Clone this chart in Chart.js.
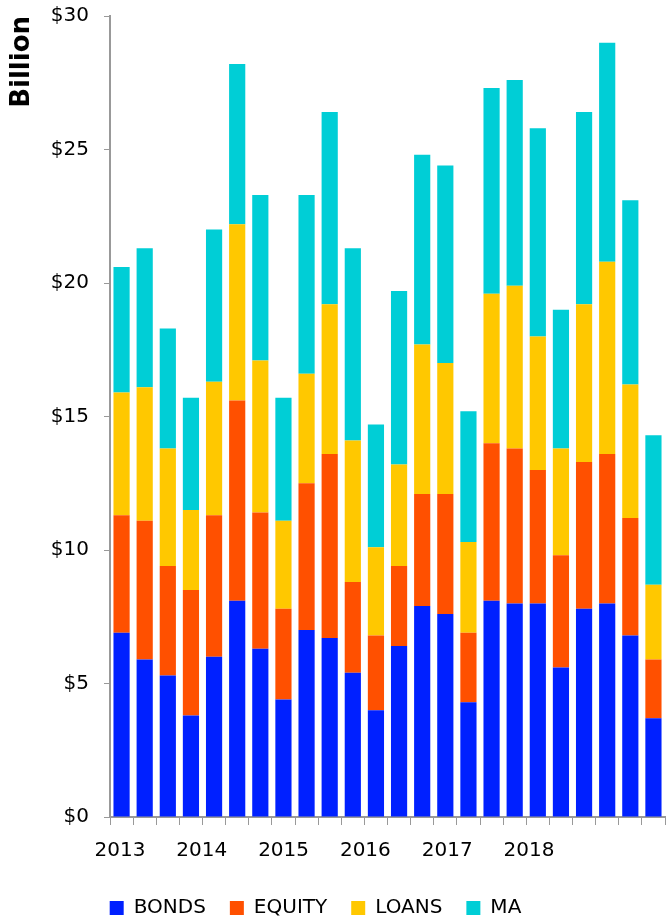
<!DOCTYPE html>
<html>
<head>
<meta charset="utf-8">
<script src="https://cdn.jsdelivr.net/npm/chart.js@4"></script>
<style>
  html, body { margin: 0; padding: 0; background: #fff; }
  #wrap { width: 667px; height: 923px; position: relative; }
</style>
</head>
<body>
<div id="wrap"><canvas id="myChart"></canvas></div>
<script>
// quarters 2013 Q1 - 2018 Q4
const quarters = ['2013 Q1', '2013 Q2', '2013 Q3', '2013 Q4', '2014 Q1', '2014 Q2', '2014 Q3', '2014 Q4',
    '2015 Q1', '2015 Q2', '2015 Q3', '2015 Q4', '2016 Q1', '2016 Q2', '2016 Q3', '2016 Q4',
    '2017 Q1', '2017 Q2', '2017 Q3', '2017 Q4', '2018 Q1', '2018 Q2', '2018 Q3', '2018 Q4'];
const years = [2013, 2014, 2015, 2016, 2017, 2018];

// $ billion
const bonds = [6.9, 5.9, 5.3, 3.8, 6.0, 8.1, 6.3, 4.4, 7.0, 6.7, 5.4, 4.0,
    6.4, 7.9, 7.6, 4.3, 8.1, 8.0, 8.0, 5.6, 7.8, 8.0, 6.8, 3.7];
const equity = [4.4, 5.2, 4.1, 4.7, 5.3, 7.5, 5.1, 3.4, 5.5, 6.9, 3.4, 2.8,
    3.0, 4.2, 4.5, 2.6, 5.9, 5.8, 5.0, 4.2, 5.5, 5.6, 4.4, 2.2];
const loans = [4.6, 5.0, 4.4, 3.0, 5.0, 6.6, 5.7, 3.3, 4.1, 5.6, 5.3, 3.3,
    3.8, 5.6, 4.9, 3.4, 5.6, 6.1, 5.0, 4.0, 5.9, 7.2, 5.0, 2.8];
const ma = [4.7, 5.2, 4.5, 4.2, 5.7, 6.0, 6.2, 4.6, 6.7, 7.2, 7.2, 4.6,
    6.5, 7.1, 7.4, 4.9, 7.7, 7.7, 7.8, 5.2, 7.2, 8.2, 6.9, 5.6];
const yTicks = [0, 5, 10, 15, 20, 25, 30];

Chart.defaults.font.family = '"DejaVu Sans", Verdana, sans-serif';
Chart.defaults.font.size = 20;
Chart.defaults.color = '#000';

// nudge the legend a bit to the left, like the original
const legendShift = {
    id: 'legendShift',
    afterLayout: function (chart) {
        chart.legend.left -= 17;
        chart.legend.right -= 17;
    }
};

var ctx = document.getElementById('myChart');
var myChart = new Chart(ctx, {
    type: 'bar',
    data: {
        labels: quarters,
        datasets: [
            { label: 'BONDS', data: bonds, backgroundColor: '#0020ff' },
            { label: 'EQUITY', data: equity, backgroundColor: '#ff5000' },
            { label: 'LOANS', data: loans, backgroundColor: '#ffc800' },
            { label: 'MA', data: ma, backgroundColor: '#00ced6' }
        ]
    },
    plugins: [legendShift],
    options: {
        responsive: true,
        maintainAspectRatio: false,
        animation: false,
        layout: { padding: { top: 16, right: 2, left: 0, bottom: -5 } },
        datasets: {
            bar: { categoryPercentage: 1, barPercentage: 0.7, borderWidth: 0 }
        },
        plugins: {
            tooltip: { enabled: false },
            legend: {
                position: 'bottom',
                labels: {
                    boxWidth: 14,
                    boxHeight: 14,
                    padding: 24,
                    font: { size: 20 }
                }
            }
        },
        scales: {
            x: {
                stacked: true,
                weight: 0,
                ticks: { display: false },
                grid: { drawOnChartArea: false, tickLength: 8, color: '#999' },
                border: { color: '#999', width: 2 },
                afterFit: function (scale) { scale.height = 8; }
            },
            years: {
                type: 'linear',
                position: 'bottom',
                weight: 1,
                offset: false,
                min: 2012.878,
                max: 2019.663,
                grid: { display: false, offset: false },
                border: { display: false },
                ticks: {
                    stepSize: 1,
                    includeBounds: false,
                    autoSkip: false,
                    maxRotation: 0,
                    padding: 6,
                    callback: function (v) { return years.includes(v) ? String(v) : ''; }
                },
                afterFit: function (scale) {
                    scale.height = 49;
                    scale.paddingLeft = 0;
                    scale.paddingRight = 0;
                }
            },
            y: {
                stacked: true,
                min: 0,
                max: 30,
                afterBuildTicks: function (scale) {
                    scale.ticks = yTicks.map(v => ({ value: v }));
                },
                ticks: {
                    padding: 15,
                    callback: function (v) { return '$' + v; }
                },
                grid: { drawOnChartArea: false, tickLength: 6, color: '#999' },
                border: { color: '#999', width: 2 },
                title: {
                    display: true,
                    text: 'Billion',
                    align: 'end',
                    padding: { top: 7, bottom: 0 },
                    font: { size: 26, weight: 'bold' }
                },
                afterFit: function (scale) {
                    scale.width = 110;
                    scale.paddingTop = 0;
                    scale.paddingBottom = 0;
                }
            }
        }
    }
});
</script>
</body>
</html>
